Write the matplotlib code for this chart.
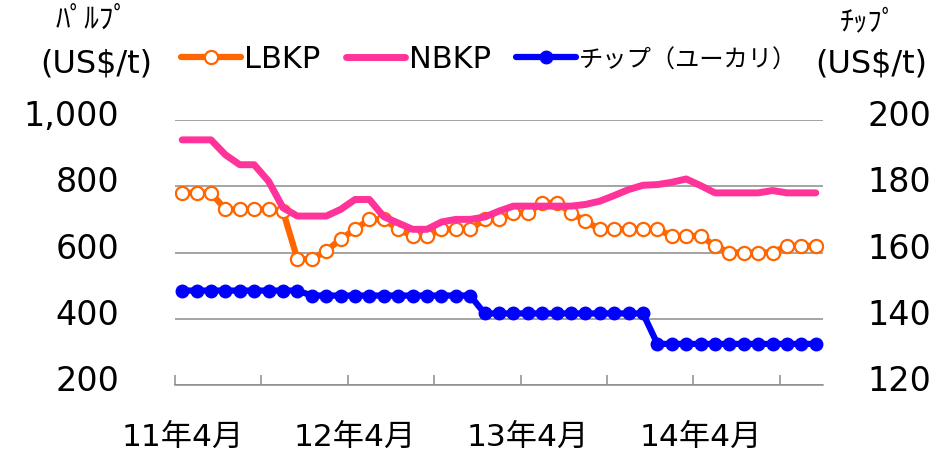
import numpy as np
import matplotlib.pyplot as plt
from matplotlib.transforms import ScaledTranslation

plt.rcParams['font.family'] = ['DejaVu Sans', 'Noto Sans CJK JP']

# months Apr 2011 .. Dec 2014 (category axis)
months = []
for yy in range(11, 15):
    for mm in range(1, 13):
        if (yy == 11 and mm < 4):
            continue
        months.append(f"{yy}年{mm}月")

lbkp = [780, 780, 780, 730, 730, 730, 730, 725, 580, 580,
        605, 640, 670, 700, 700, 670, 650, 650, 670, 670,
        670, 700, 700, 720, 720, 750, 750, 720, 695, 670,
        670, 670, 670, 670, 650, 650, 650, 620, 600, 600,
        600, 600, 620, 620, 620]
nbkp = [940, 940, 940, 895, 865, 865, 815, 735, 710, 710,
        710, 730, 760, 760, 708, 689, 670, 670, 692, 700,
        700, 707, 725, 740, 740, 740, 740, 740, 745, 755,
        772, 790, 803, 805, 812, 822, 802, 780, 780, 780,
        780, 787, 780, 780, 780]
chip = [148.5] * 9 + [147] * 12 + [141.6] * 12 + [132.4] * 12

left_ticks = [200, 400, 600, 800, 1000]
right_ticks = [120, 140, 160, 180, 200]
label_months = ["11年4月", "12年4月", "13年4月", "14年4月"]

W, H = 948, 455
fig = plt.figure(figsize=(W / 100, H / 100), dpi=100)
ax = fig.add_axes([175 / W, 1 - 385 / H, (823 - 175) / W, (385 - 120) / H])

x = np.arange(len(months))
grey = '#8c8c8c'

ax.plot(x, lbkp, color='#FF6600', lw=4.5, marker='o', ms=9.5, mfc='white',
        mec='#FF6600', mew=1.6, label='LBKP', zorder=3,
        solid_capstyle='round', solid_joinstyle='round')
ax.plot(x, nbkp, color='#FF3399', lw=5, label='NBKP', zorder=4,
        solid_capstyle='round', solid_joinstyle='round')

ax.set_xlim(-0.5, len(months) - 0.5)
ax.set_ylim(200, 1000)
ax.set_yticks(left_ticks)
ax.set_yticklabels([f"{v:,}" for v in left_ticks])
ax.grid(axis='y', color=grey, lw=1.1)
ax.set_axisbelow(True)
ax.tick_params(axis='y', length=0, pad=40, labelsize=24)

ax.set_xticks(np.arange(-0.5, len(months) - 1, 6))
ax.set_xticklabels([])
ax.tick_params(axis='x', which='major', direction='in', length=7, width=1.1, color=grey)
ax.set_xticks([months.index(m) for m in label_months], minor=True)
ax.set_xticklabels(label_months, minor=True)
ax.tick_params(axis='x', which='minor', length=0, pad=27, labelsize=22.5)

for s in ['top', 'left', 'right']:
    ax.spines[s].set_visible(False)
ax.spines['bottom'].set_color(grey)
ax.spines['bottom'].set_linewidth(1.1)

ax2 = ax.twinx()
ax2.plot(x, chip, color='#0000FF', lw=4.5, marker='o', ms=9, mec='#0000FF',
         label='チップ（ユーカリ）', solid_capstyle='round')
ax2.set_ylim(120, 200)
ax2.set_yticks(right_ticks)
ax2.tick_params(axis='y', length=0, pad=32, labelsize=24)
for s in ax2.spines.values():
    s.set_visible(False)

up = ScaledTranslation(0, 5 / 72, fig.dpi_scale_trans)
for lab in ax.get_yticklabels() + ax2.get_yticklabels():
    lab.set_transform(lab.get_transform() + up)

h1, l1 = ax.get_legend_handles_labels()
h2, l2 = ax2.get_legend_handles_labels()
leg = fig.legend(h1 + h2, l1 + l2, loc='center left', bbox_to_anchor=(181 / W, 1 - 59 / H),
                 ncol=3, frameon=False, fontsize=22, handlelength=1.95, handletextpad=0.1,
                 columnspacing=0.85, borderpad=0, borderaxespad=0)
leg.get_texts()[2].set_fontsize(17.5)

fig.text(92 / W, 1 - 20 / H, 'ﾊﾟﾙﾌﾟ', ha='center', va='center', fontsize=21,
         family=['Noto Sans CJK JP'])
fig.text(96 / W, 1 - 64 / H, '(US$/t)', ha='center', va='center', fontsize=23)
fig.text(868 / W, 1 - 22 / H, 'ﾁｯﾌﾟ', ha='center', va='center', fontsize=20.5,
         family=['Noto Sans CJK JP'])
fig.text(871 / W, 1 - 64 / H, '(US$/t)', ha='center', va='center', fontsize=23)

fig.savefig('out.png', dpi=100)
